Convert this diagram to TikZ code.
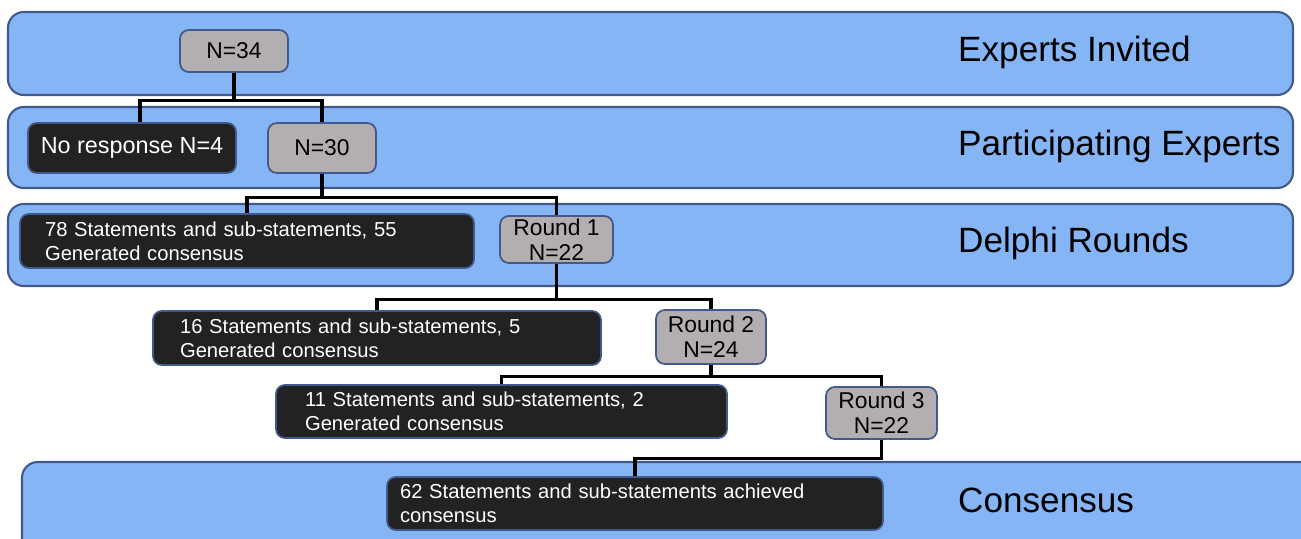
\documentclass[tikz,border=0pt]{standalone}
\usepackage{fontspec}
\setmainfont{Liberation Sans}
\definecolor{bandblue}{HTML}{86B5F6}
\definecolor{bandline}{HTML}{41598B}
\definecolor{boxgray}{HTML}{B3AFB0}
\definecolor{boxblack}{HTML}{222222}
\tikzset{
  band/.style={fill=bandblue,draw=bandline,line width=1.2pt,rounded corners=9pt},
  bandlabel/.style={anchor=west,font=\fontsize{20}{22}\selectfont},
  countbox/.style={fill=boxgray,draw=bandline,line width=1pt,rounded corners=5pt,
    align=center,inner sep=0pt,font=\fontsize{13}{14}\selectfont},
  statbox/.style={fill=boxblack,draw=bandline,line width=1pt,rounded corners=5pt,
    text=white,align=left,inner ysep=0pt,font=\fontsize{11.5}{13.6}\selectfont},
  link/.style={line width=1.8pt}
}
\begin{document}
\begin{tikzpicture}[x=0.02cm,y=-0.02cm]
  \useasboundingbox (0,0) rectangle (1301,538);

  %bands
  \draw[band] (8,12) rectangle (1293,95);
  \draw[band] (8,107) rectangle (1293,188);
  \draw[band] (8,204) rectangle (1293,286);
  \begin{scope}
    \clip (0,0) rectangle (1301,538);
    \draw[band] (22,462) rectangle (1340,580);
  \end{scope}

  %band labels
  \node[bandlabel] (invited) at (952,52) {Experts Invited};
  \node[bandlabel] (particip) at (952,146) {Participating Experts};
  \node[bandlabel] (delphi) at (952,243) {Delphi Rounds};
  \node[bandlabel] (consensus) at (952,500) {Consensus};

  %counts
  \node[countbox,minimum width=2.16cm,minimum height=0.84cm] (n34) at (234,51) {N=34};
  \node[countbox,minimum width=2.16cm,minimum height=1.0cm] (n30) at (322,148) {\raisebox{-3pt}{N=30}};
  \node[countbox,minimum width=2.26cm,minimum height=0.94cm] (r1) at (556.5,239.5) {Round 1\\N=22};
  \node[countbox,minimum width=2.2cm,minimum height=1.08cm] (r2) at (711,337) {Round 2\\N=24};
  \node[countbox,minimum width=2.22cm,minimum height=1.04cm] (r3) at (881.5,413) {Round 3\\N=22};

  %statements
  \node[statbox,inner xsep=0pt,minimum width=4.16cm,minimum height=1.0cm,align=center] (noresp) at (132,148)
    {\fontsize{13.3}{14}\selectfont No response N=4};
  \node[statbox,inner xsep=0.5cm,text width=8.08cm,minimum height=1.08cm] (s78) at (247,241)
    {78 Statements and sub-statements, 55\\Generated consensus};
  \node[statbox,inner xsep=0.54cm,text width=7.88cm,minimum height=1.08cm] (s16) at (377,338)
    {16 Statements and sub-statements, 5\\Generated consensus};
  \node[statbox,inner xsep=0.58cm,text width=7.86cm,minimum height=1.06cm] (s11) at (501.5,411.5)
    {11 Statements and sub-statements, 2\\Generated consensus};
  \node[statbox,inner xsep=0.26cm,text width=9.4cm,minimum height=1.06cm] (s62) at (635,503.5)
    {62 Statements and sub-statements achieved\\consensus};

  %links
  \draw[link] (n34.south) -- ++(0,28) -| (noresp.north -| 140,0);
  \draw[link] (n34.south) -- ++(0,28) -| (n30.north);
  \draw[link] (n30.south) -- ++(0,24) -| (s78.north);
  \draw[link] (n30.south) -- ++(0,24) -| (r1.north);
  \draw[link] (r1.south) -- ++(0,36) -| (s16.north);
  \draw[link] (r1.south) -- ++(0,36) -| (r2.north);
  \draw[link] (r2.south) -- ++(0,12) -| (s11.north);
  \draw[link] (r2.south) -- ++(0,12) -| (r3.north);
  \draw[link] (r3.south) -- ++(0,19) -| (s62.north);
\end{tikzpicture}
\end{document}
